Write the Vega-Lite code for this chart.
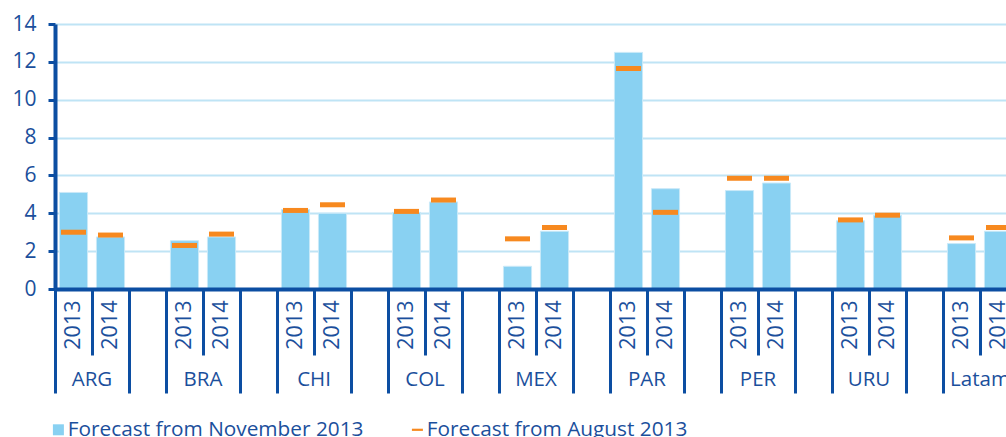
{
  "$schema": "https://vega.github.io/schema/vega-lite/v6.json",
  "width": 999,
  "height": 265,
  "autosize": "none",
  "padding": {"left": 55, "top": 24, "right": 0, "bottom": 148},
  "config": {
    "view": {"stroke": null},
    "font": "Open Sans",
    "axis": {"labelFont": "Open Sans", "labelColor": "#1B4F9C", "labelFontSize": 20, "title": null},
    "legend": {
      "title": null, "orient": "none", "direction": "horizontal",
      "legendX": -7, "legendY": 395, "padding": 0,
      "labelFont": "Open Sans", "labelFontSize": 20.8, "labelColor": "#1B4F9C", "labelLimit": 400,
      "labelOffset": -1, "columnPadding": 43, "symbolSize": 121, "symbolStrokeWidth": 0, "symbolOpacity": 1
    }
  },
  "data": {
    "values": [
      {"key": "ARG 2013", "nov": 5.1, "aug": 3.0},
      {"key": "ARG 2014", "nov": 2.75, "aug": 2.85},
      {"key": "BRA 2013", "nov": 2.55, "aug": 2.3},
      {"key": "BRA 2014", "nov": 2.75, "aug": 2.9},
      {"key": "CHI 2013", "nov": 4.2, "aug": 4.15},
      {"key": "CHI 2014", "nov": 4.0, "aug": 4.45},
      {"key": "COL 2013", "nov": 4.05, "aug": 4.1},
      {"key": "COL 2014", "nov": 4.6, "aug": 4.7},
      {"key": "MEX 2013", "nov": 1.2, "aug": 2.65},
      {"key": "MEX 2014", "nov": 3.05, "aug": 3.25},
      {"key": "PAR 2013", "nov": 12.5, "aug": 11.65},
      {"key": "PAR 2014", "nov": 5.3, "aug": 4.05},
      {"key": "PER 2013", "nov": 5.2, "aug": 5.85},
      {"key": "PER 2014", "nov": 5.6, "aug": 5.85},
      {"key": "URU 2013", "nov": 3.6, "aug": 3.65},
      {"key": "URU 2014", "nov": 3.9, "aug": 3.9},
      {"key": "Latam 2013", "nov": 2.4, "aug": 2.7},
      {"key": "Latam 2014", "nov": 3.05, "aug": 3.25}
    ]
  },
  "resolve": {"axis": {"x": "independent", "y": "independent"}},
  "layer": [
    {
      "mark": {"type": "bar", "width": {"band": 0.76}, "stroke": "#C9E9F8", "strokeWidth": 1},
      "encoding": {
        "x": {
          "field": "key", "type": "nominal", "sort": null,
          "scale": {"type": "band", "paddingInner": 0, "paddingOuter": 0,
            "domain": ["ARG 2013","ARG 2014","ARG gap","BRA 2013","BRA 2014","BRA gap","CHI 2013","CHI 2014","CHI gap","COL 2013","COL 2014","COL gap","MEX 2013","MEX 2014","MEX gap","PAR 2013","PAR 2014","PAR gap","PER 2013","PER 2014","PER gap","URU 2013","URU 2014","URU gap","Latam 2013","Latam 2014","Latam gap"]},
          "axis": {
            "orient": "bottom", "title": null, "labels": false, "grid": false,
            "domain": true, "domainColor": "#0C4EA2", "domainWidth": 4,
            "ticks": true, "bandPosition": 0, "tickWidth": 3, "tickSize": 104,
            "tickColor": {"condition": {"test": "indexof(datum.value, '2014') >= 0", "value": "rgba(0,0,0,0)"}, "value": "#0C4EA2"},
            "zindex": 2
          }
        },
        "y": {
          "field": "nov", "type": "quantitative",
          "scale": {"domain": [0, 14], "nice": false},
          "axis": {
            "orient": "left", "title": null, "values": [0, 2, 4, 6, 8, 10, 12, 14],
            "grid": true, "gridColor": "#BFE4F5", "gridWidth": 2,
            "domainColor": "#0C4EA2", "domainWidth": 4,
            "tickColor": "#0C4EA2", "tickWidth": 3, "tickSize": 7,
            "labelPadding": 12, "labelFontSize": 21, "labelColor": "#1B4F9C"
          }
        },
        "color": {
          "datum": "Forecast from November 2013", "type": "nominal",
          "scale": {"domain": ["Forecast from November 2013", "Forecast from August 2013"], "range": ["#89D1F2", "#F7891F"]},
          "legend": {
            "encode": {
              "symbols": {
                "update": {
                  "shape": {"signal": "datum.value === 'Forecast from August 2013' ? 'M-1,-0.2H1V0.2H-1Z' : 'square'"},
                  "size": {"value": 121},
                  "strokeWidth": {"value": 0},
                  "opacity": {"value": 1}
                }
              }
            }
          }
        }
      }
    },
    {
      "mark": {"type": "tick", "thickness": 5, "size": 25, "opacity": 1},
      "encoding": {
        "x": {
          "field": "key", "type": "nominal", "sort": null,
          "axis": {
            "orient": "bottom", "title": null, "domain": false, "ticks": false, "grid": false,
            "labelAngle": 270, "labelPadding": 11, "labelOverlap": false, "labelFontSize": 21.5,
            "labelExpr": "split(datum.value, ' ')[1] == 'gap' ? '' : split(datum.value, ' ')[1]"
          }
        },
        "y": {"field": "aug", "type": "quantitative", "axis": null},
        "color": {
          "datum": "Forecast from August 2013", "type": "nominal",
          "legend": {
            "encode": {
              "symbols": {
                "update": {
                  "shape": {"signal": "datum.value === 'Forecast from August 2013' ? 'M-1,-0.2H1V0.2H-1Z' : 'square'"},
                  "size": {"value": 121},
                  "strokeWidth": {"value": 0},
                  "opacity": {"value": 1}
                }
              }
            }
          }
        }
      }
    },
    {
      "mark": {"type": "bar", "opacity": 0, "width": {"band": 0.76}},
      "encoding": {
        "x": {
          "field": "key", "type": "nominal", "sort": null,
          "axis": {
            "orient": "bottom", "title": null, "domain": false, "ticks": false, "grid": false,
            "labelAngle": 0, "labelPadding": 80, "labelOffset": 18.5, "labelOverlap": false,
            "labelBaseline": "top", "labelAlign": "center", "labelFontSize": 20.5,
            "labelExpr": "split(datum.value, ' ')[1] == '2013' ? split(datum.value, ' ')[0] : ''"
          }
        },
        "y": {"field": "nov", "type": "quantitative", "axis": null}
      }
    },
    {
      "mark": {"type": "bar", "opacity": 0, "width": {"band": 0.76}},
      "encoding": {
        "x": {
          "field": "key", "type": "nominal", "sort": null,
          "axis": {
            "orient": "bottom", "title": null, "domain": false, "labels": false, "grid": false,
            "ticks": true, "bandPosition": 0, "tickWidth": 3, "tickSize": 66, "tickColor": "#0C4EA2"
          }
        },
        "y": {"field": "nov", "type": "quantitative", "axis": null}
      }
    }
  ]
}
